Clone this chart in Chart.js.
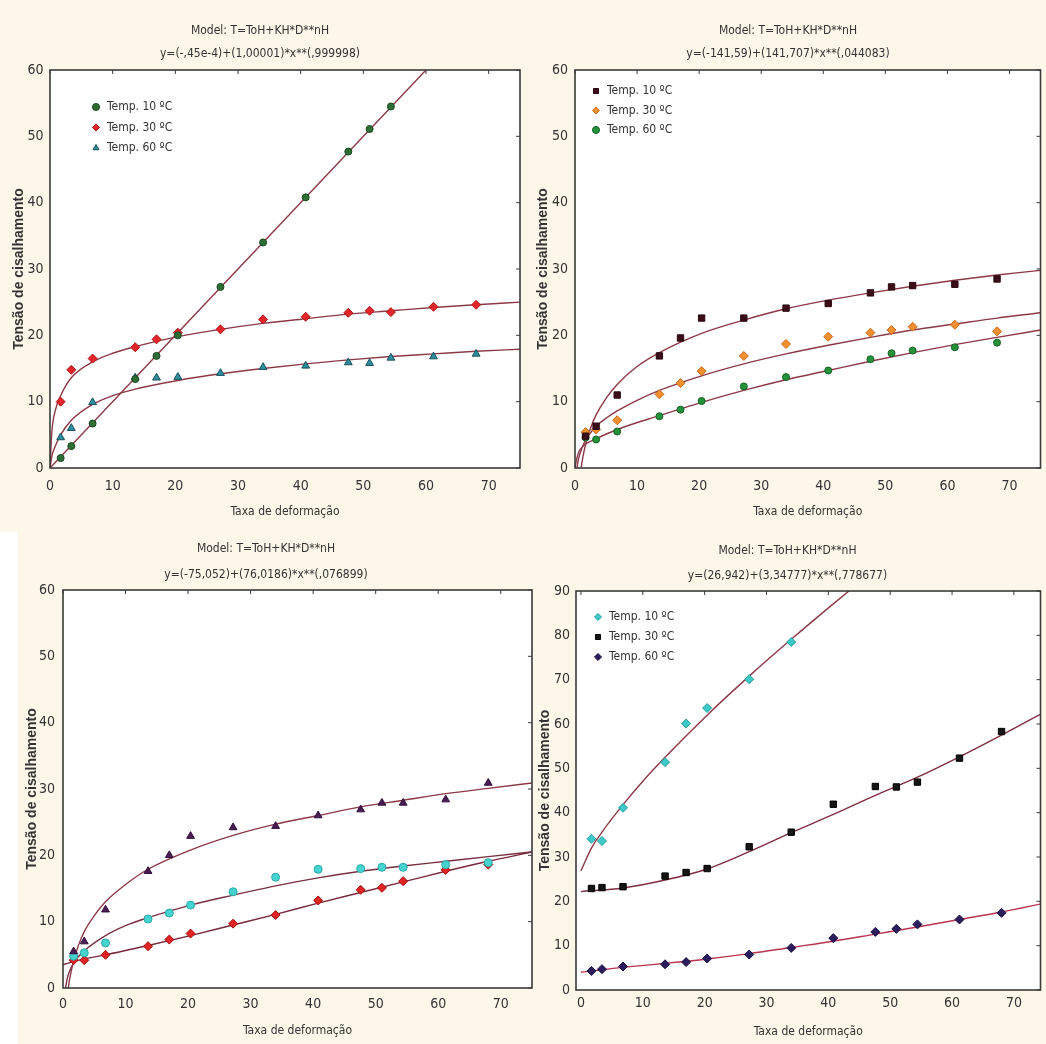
<!DOCTYPE html>
<html>
<head>
<meta charset="utf-8">
<script src="https://cdn.jsdelivr.net/npm/chart.js@4.4.1/dist/chart.umd.min.js"></script>
<style>
  html, body { margin: 0; padding: 0; background: #fcf7e9; }
  body { width: 1046px; height: 1044px; position: relative; overflow: hidden; }
  canvas { position: absolute; }
  .strip { position: absolute; left: 0; top: 532px; width: 18px; height: 512px; background: #ffffff; }
</style>
</head>
<body>
<div class="strip"></div>
<canvas id="chartA" width="540" height="522" style="left:0;top:0"></canvas>
<canvas id="chartB" width="514" height="522" style="left:532px;top:0"></canvas>
<canvas id="chartC" width="560" height="522" style="left:0;top:522px"></canvas>
<canvas id="chartD" width="514" height="522" style="left:532px;top:522px"></canvas>
<script>
// shear rates shared by every measured series
const shearRate = [1.7, 3.4, 6.8, 13.6, 17, 20.4, 27.2, 34, 40.8, 47.6, 51, 54.4, 61.2, 68];
const seriesLabels = ['Temp. 10 ºC', 'Temp. 30 ºC', 'Temp. 60 ºC'];
const modelTitle = 'Model: T=ToH+KH*D**nH';

// Panel A (top left)
const a10 = [1.5, 3.3, 6.7, 13.4, 16.9, 20.0, 27.3, 34.0, 40.8, 47.7, 51.1, 54.5, null, null];
const a30 = [10.0, 14.8, 16.5, 18.2, 19.4, 20.4, 20.9, 22.4, 22.8, 23.4, 23.7, 23.5, 24.3, 24.6];
const a60 = [4.6, 6.0, 9.9, 13.6, 13.6, 13.7, 14.3, 15.2, 15.4, 15.9, 15.8, 16.6, 16.8, 17.2];
const aFit10X = [0, 30, 62];
const aFit10Y = [0, 30, 62];
const aFitX = [0, 0.3, 0.8, 1.7, 3.4, 6.8, 10, 13.6, 20.4, 27.2, 34, 40.8, 47.6, 54.4, 61.2, 68, 75];
const aFit30Y = [0, 5.5, 8.5, 10.9, 13.6, 16.0, 17.3, 18.3, 19.8, 20.9, 21.8, 22.5, 23.2, 23.7, 24.2, 24.6, 25.0];
const aFit60Y = [0, 1.8, 3.2, 5.0, 7.2, 9.6, 10.9, 11.9, 13.2, 14.2, 15.0, 15.7, 16.3, 16.8, 17.2, 17.6, 17.9];
const aSubtitle = 'y=(-,45e-4)+(1,00001)*x**(,999998)';

// Panel B (top right)
const b10 = [4.8, 6.3, 11.0, 16.9, 19.6, 22.6, 22.6, 24.1, 24.8, 26.4, 27.3, 27.5, 27.7, 28.5];
const b30 = [5.4, 5.8, 7.2, 11.1, 12.8, 14.6, 16.9, 18.7, 19.8, 20.4, 20.8, 21.3, 21.6, 20.6];
const b60 = [4.6, 4.3, 5.5, 7.8, 8.8, 10.1, 12.3, 13.7, 14.7, 16.4, 17.3, 17.7, 18.2, 18.9];
const bFit10X = [1, 1.3, 1.7, 2.5, 3.4, 5, 6.8, 10, 13.6, 20.4, 27.2, 34, 40.8, 47.6, 54.4, 61.2, 68, 75];
const bFit10Y = [0.1, 1.8, 3.5, 6.0, 8.0, 10.5, 12.6, 15.3, 17.4, 20.3, 22.3, 24.0, 25.3, 26.4, 27.4, 28.3, 29.1, 29.8];
const bFit30X = [0.3, 0.6, 1, 1.7, 2.5, 3.4, 5, 6.8, 10, 13.6, 20.4, 27.2, 34, 40.8, 47.6, 54.4, 61.2, 68, 75];
const bFit30Y = [0, 1.5, 2.7, 4.2, 5.3, 6.3, 7.5, 8.6, 10.2, 11.7, 13.9, 15.7, 17.2, 18.5, 19.7, 20.8, 21.7, 22.6, 23.4];
const bFit60X = [0, 0.3, 0.7, 1, 1.7, 3.4, 6.8, 13.6, 20.4, 27.2, 34, 40.8, 47.6, 54.4, 61.2, 68, 75];
const bFit60Y = [0, 1.5, 2.6, 3.0, 3.6, 4.4, 5.8, 7.9, 9.9, 11.7, 13.3, 14.7, 16.1, 17.4, 18.6, 19.7, 20.8];
const bSubtitle = 'y=(-141,59)+(141,707)*x**(,044083)';

// Panel C (bottom left)
const c10 = [5.5, 7.0, 11.8, 17.6, 20.0, 22.9, 24.2, 24.4, 26.0, 26.9, 27.9, 27.9, 28.4, 30.9];
const c30 = [4.8, 5.3, 6.8, 10.4, 11.3, 12.5, 14.5, 16.7, 17.9, 18.0, 18.2, 18.2, 18.6, 18.9];
const c60 = [4.2, 4.2, 5.0, 6.3, 7.3, 8.2, 9.7, 11.0, 13.2, 14.8, 15.1, 16.1, 17.8, 18.6];
const cFit10X = [0.85, 1, 1.7, 2.5, 3.4, 5, 6.8, 10, 13.6, 20.4, 27.2, 34, 40.8, 47.6, 54.4, 61.2, 68, 75];
const cFit10Y = [0, 1.0, 4.1, 6.5, 8.5, 10.9, 13.0, 15.6, 17.9, 20.8, 23.0, 24.7, 26.0, 27.3, 28.3, 29.3, 30.1, 30.9];
const cFit30X = [0.4, 0.7, 1, 1.7, 3.4, 6.8, 10, 13.6, 20.4, 27.2, 34, 40.8, 47.6, 54.4, 61.2, 68, 75];
const cFit30Y = [0, 1.5, 2.4, 3.8, 5.6, 7.9, 9.4, 10.6, 12.5, 14.0, 15.4, 16.6, 17.6, 18.4, 19.1, 19.8, 20.5];
const cFit60X = [0, 1.7, 3.4, 6.8, 13.6, 20.4, 27.2, 34, 40.8, 47.6, 54.4, 61.2, 68, 75];
const cFit60Y = [3.5, 4.0, 4.4, 5.0, 6.4, 7.9, 9.5, 11.1, 12.8, 14.4, 16.0, 17.6, 19.1, 20.5];
const cSubtitle = 'y=(-75,052)+(76,0186)*x**(,076899)';

// Panel D (bottom right)
const d10 = [34.1, 33.6, 41.1, 51.4, 60.1, 63.6, 70.1, 78.5, null, null, null, null, null, null];
const d30 = [22.9, 23.1, 23.3, 25.7, 26.5, 27.4, 32.3, 35.6, 41.9, 45.9, 45.8, 46.9, 52.3, 58.3];
const d60 = [4.3, 4.7, 5.3, 5.8, 6.3, 7.1, 8.0, 9.5, 11.7, 13.1, 13.8, 14.8, 15.9, 17.4];
const dFit10X = [0, 1.7, 3.4, 6.8, 10, 13.6, 20.4, 27.2, 34, 40.8, 45];
const dFit10Y = [26.9, 32.0, 35.6, 41.8, 47.1, 52.5, 62.0, 70.8, 79.1, 87.1, 91.9];
const dFitX = [0, 6.8, 13.6, 20.4, 27.2, 34, 40.8, 47.6, 54.4, 61.2, 68, 75];
const dFit30Y = [22.2, 23.0, 24.8, 27.3, 31.2, 35.5, 39.6, 43.9, 48.0, 52.6, 57.5, 62.7];
const dFit60Y = [4.0, 5.1, 6.0, 7.0, 8.2, 9.6, 11.0, 12.6, 14.2, 15.9, 17.6, 19.6];
const dSubtitle = 'y=(26,942)+(3,34777)*x**(,778677)';

Chart.defaults.font.family = '"Liberation Sans Narrow", "DejaVu Sans Condensed", "Arial Narrow", sans-serif';
Chart.defaults.font.size = 14;
Chart.defaults.color = '#333';

const TICK_LH = 14 * 1.2;   // tick labels
const TXT = 12;             // titles, legend, x axis name
const TXT_LH = TXT * 1.2;
const YT_LH = 14 * 1.2;     // y axis name

function pts(xs, ys) {
    return xs.map((x, i) => ({ x: x, y: ys[i] })).filter(p => p.y !== null);
}

function markers(label, ys, shape, r, fill, edge) {
    return {
        label: label,
        data: pts(shearRate, ys),
        showLine: false,
        pointStyle: shape,
        pointRadius: r,
        pointBackgroundColor: fill,
        pointBorderColor: edge,
        pointBorderWidth: 1,
        backgroundColor: fill,
        borderColor: edge,
        order: 1
    };
}

function fitLine(xs, ys, color) {
    return {
        label: 'fit',
        isFit: true,
        data: pts(xs, ys),
        showLine: true,
        pointRadius: 0,
        borderColor: color,
        borderWidth: 1.4,
        cubicInterpolationMode: 'monotone',
        order: 2
    };
}

// white plot area, frame and small inward ticks on top/right
const framePlugin = {
    id: 'frame',
    beforeDraw(chart) {
        const { ctx, chartArea: a } = chart;
        ctx.save();
        ctx.fillStyle = '#ffffff';
        ctx.fillRect(a.left, a.top, a.width, a.height);
        ctx.restore();
    },
    afterDraw(chart) {
        const { ctx, chartArea: a, scales } = chart;
        ctx.save();
        ctx.strokeStyle = '#3a3a3a';
        ctx.lineWidth = 1.6;
        ctx.strokeRect(a.left, a.top, a.width, a.height);
        ctx.lineWidth = 1;
        scales.x.ticks.forEach(t => {
            const px = scales.x.getPixelForValue(t.value);
            ctx.beginPath(); ctx.moveTo(px, a.top); ctx.lineTo(px, a.top + 4); ctx.stroke();
        });
        scales.y.ticks.forEach(t => {
            const py = scales.y.getPixelForValue(t.value);
            ctx.beginPath(); ctx.moveTo(a.right, py); ctx.lineTo(a.right - 4, py); ctx.stroke();
        });
        ctx.restore();
    }
};

// move the in-plot legend to its spot
const legendShift = {
    id: 'legendShift',
    afterLayout(chart, args, opts) {
        const lg = chart.legend;
        if (!lg || opts.dx === undefined) return;
        lg.left = chart.chartArea.left + opts.dx;
        lg.top = chart.chartArea.top + opts.dy;
        lg.bottom = chart.chartArea.bottom;
        lg.right = chart.chartArea.right;
    }
};

function makePanel(id, g, datasets, xr, yr, subtitle, legend) {
    const ctx = document.getElementById(id).getContext('2d');
    const right = g.left + g.width;
    const bottom = g.top + g.height;
    return new Chart(ctx, {
        type: 'scatter',
        data: { datasets: datasets },
        options: {
            responsive: false,
            animation: false,
            events: [],
            layout: { padding: { left: 0, top: 0, bottom: 0, right: right - g.plot.r } },
            plugins: {
                title: {
                    display: true,
                    text: modelTitle,
                    font: { size: TXT, weight: 'normal' },
                    padding: { top: g.titleY - g.top - TXT_LH / 2, bottom: 0 }
                },
                subtitle: {
                    display: true,
                    text: subtitle,
                    font: { size: TXT },
                    color: '#333',
                    padding: {
                        top: (g.subY - TXT_LH / 2) - (g.titleY + TXT_LH / 2),
                        bottom: g.plot.t - (g.subY + TXT_LH / 2)
                    }
                },
                legend: legend ? {
                    display: true,
                    position: 'chartArea',
                    align: 'start',
                    labels: {
                        usePointStyle: true,
                        boxWidth: 10,
                        boxHeight: 5,
                        padding: legend.pad,
                        font: { size: TXT },
                        filter: (item, data) => !data.datasets[item.datasetIndex].isFit
                    }
                } : { display: false },
                legendShift: legend ? { dx: legend.dx, dy: legend.dy } : {},
                tooltip: { enabled: false }
            },
            scales: {
                x: {
                    type: 'linear',
                    min: xr[0],
                    max: xr[1],
                    grid: { display: false, drawTicks: false },
                    border: { display: false },
                    ticks: { stepSize: 10, includeBounds: false, padding: g.xTickY - g.plot.b - TICK_LH / 2 },
                    title: {
                        display: true,
                        text: 'Taxa de deformação',
                        font: { size: TXT },
                        padding: { top: 0, bottom: bottom - g.xTitleY - TXT_LH / 2 }
                    },
                    afterFit: s => { s.height = bottom - g.plot.b; }
                },
                y: {
                    type: 'linear',
                    min: yr[0],
                    max: yr[1],
                    grid: { display: false, drawTicks: false },
                    border: { display: false },
                    ticks: { stepSize: 10, includeBounds: false, padding: g.yTickPad },
                    title: {
                        display: true,
                        text: 'Tensão de cisalhamento',
                        font: { family: '"Liberation Sans", Arial, sans-serif', size: 14, weight: 'bold' },
                        padding: { top: g.yTitleX - g.left - YT_LH / 2, bottom: 0 }
                    },
                    afterFit: s => { s.width = g.plot.l - g.left; }
                }
            }
        },
        plugins: [framePlugin, legendShift]
    });
}

const FIT = '#8c3947';

makePanel('chartA',
    { left: 0, top: 0, width: 540, height: 522, plot: { l: 50, t: 70, r: 520, b: 468 },
      titleY: 31, subY: 53.5, xTickY: 486, xTitleY: 512, yTitleX: 19, yTickPad: 6.5 },
    [
        markers(seriesLabels[0], a10, 'circle', 3.5, '#2d6e35', '#1c4622'),
        markers(seriesLabels[1], a30, 'rectRot', 4.5, '#e3262b', '#b01818'),
        markers(seriesLabels[2], a60, 'triangle', 4.5, '#2b8fa0', '#1a4f5a'),
        fitLine(aFit10X, aFit10Y, FIT),
        fitLine(aFitX, aFit30Y, FIT),
        fitLine(aFitX, aFit60Y, FIT)
    ],
    [0, 75], [0, 60], aSubtitle, { pad: 8.5, dx: 32.5, dy: 22.5 });

makePanel('chartB',
    { left: 532, top: 0, width: 514, height: 522, plot: { l: 575, t: 70, r: 1044, b: 468 },
      titleY: 31, subY: 53.5, xTickY: 486, xTitleY: 512, yTitleX: 543, yTickPad: 7 },
    [
        markers(seriesLabels[0], b10, 'rect', 4.5, '#3b0d18', '#2a0810'),
        markers(seriesLabels[1], b30, 'rectRot', 4.5, '#f2902f', '#c86a20'),
        markers(seriesLabels[2], b60, 'circle', 3.5, '#249237', '#17602a'),
        fitLine(bFit10X, bFit10Y, FIT),
        fitLine(bFit30X, bFit30Y, FIT),
        fitLine(bFit60X, bFit60Y, FIT)
    ],
    [0, 75], [0, 60], bSubtitle, { pad: 7.5, dx: 8.5, dy: 7.5 });

makePanel('chartC',
    { left: 0, top: 522, width: 560, height: 522, plot: { l: 63, t: 590, r: 532, b: 988 },
      titleY: 549, subY: 575, xTickY: 1004, xTitleY: 1031, yTitleX: 32, yTickPad: 8 },
    [
        markers(seriesLabels[0], c10, 'triangle', 4.5, '#4b1d55', '#30103a'),
        markers(seriesLabels[1], c30, 'circle', 4, '#45d4d0', '#2aa8a8'),
        markers(seriesLabels[2], c60, 'rectRot', 4.5, '#e02424', '#a01010'),
        fitLine(cFit10X, cFit10Y, FIT),
        fitLine(cFit30X, cFit30Y, '#7a3040'),
        fitLine(cFit60X, cFit60Y, '#7a2a3a')
    ],
    [0, 75], [0, 60], cSubtitle, null);

makePanel('chartD',
    { left: 532, top: 522, width: 514, height: 522, plot: { l: 576, t: 591, r: 1043, b: 990 },
      titleY: 551, subY: 576, xTickY: 1003.5, xTitleY: 1032, yTitleX: 545, yTickPad: 6 },
    [
        markers(seriesLabels[0], d10, 'rectRot', 4.5, '#3cc9c9', '#2a9e9e'),
        markers(seriesLabels[1], d30, 'rect', 4.5, '#151515', '#000000'),
        markers(seriesLabels[2], d60, 'rectRot', 4.5, '#2c1d5e', '#1a1040'),
        fitLine(dFit10X, dFit10Y, FIT),
        fitLine(dFitX, dFit30Y, '#7e2f40'),
        fitLine(dFitX, dFit60Y, '#b8344f')
    ],
    [-0.8, 74.3], [0, 90], dSubtitle, { pad: 8, dx: 9, dy: 12 });
</script>
</body>
</html>
